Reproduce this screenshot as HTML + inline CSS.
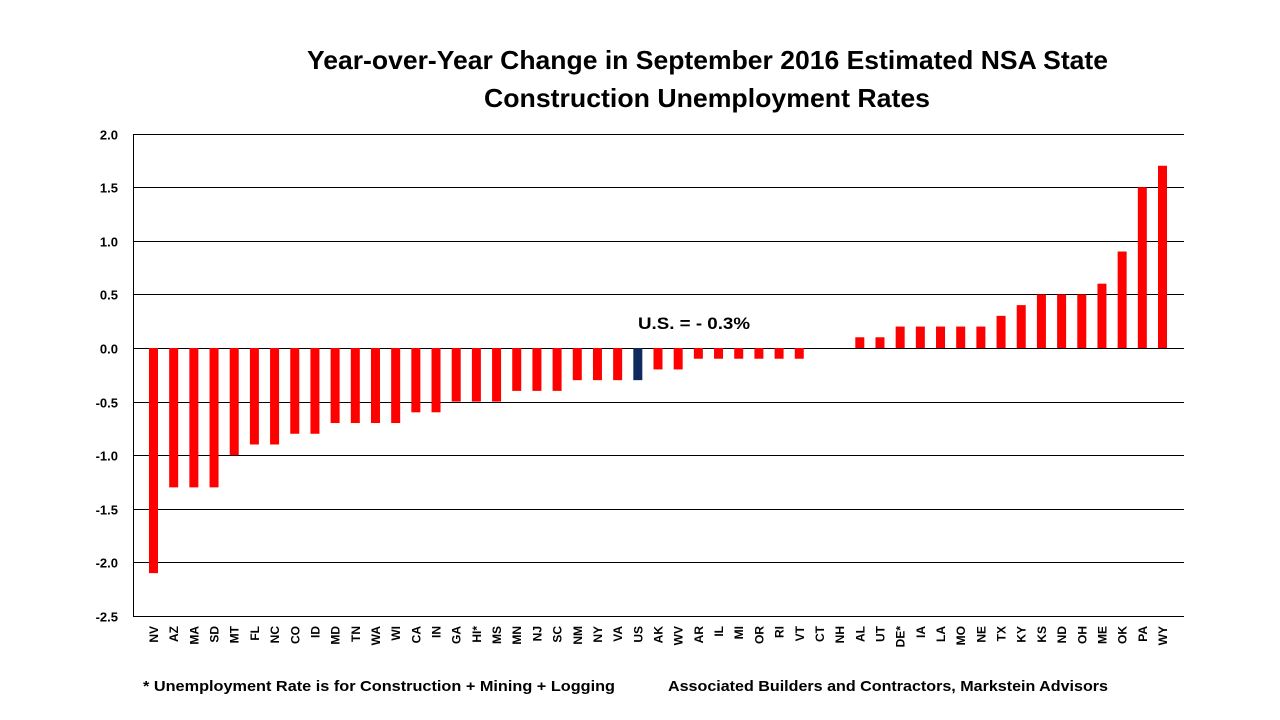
<!DOCTYPE html>
<html><head><meta charset="utf-8"><style>
html,body{margin:0;padding:0;background:#fff;}
svg{display:block;font-family:"Liberation Sans",Arial,sans-serif;}
</style></head><body>
<svg width="1280" height="720" viewBox="0 0 1280 720" xmlns="http://www.w3.org/2000/svg">
<text x="307" y="69" font-size="26" font-weight="bold" fill="#000" textLength="801" lengthAdjust="spacingAndGlyphs">Year-over-Year Change in September 2016 Estimated NSA State</text>
<text x="484" y="107" font-size="26" font-weight="bold" fill="#000" textLength="446" lengthAdjust="spacingAndGlyphs">Construction Unemployment Rates</text>
<g id="grid" stroke="#000" stroke-width="1"></g>
<g id="bars"></g>
<g id="labels" font-size="12" font-weight="bold"></g>
<text x="638" y="329" font-size="17" font-weight="bold" textLength="112" lengthAdjust="spacingAndGlyphs">U.S. = - 0.3%</text>
<text x="143" y="691" font-size="15" font-weight="bold" textLength="472" lengthAdjust="spacingAndGlyphs">* Unemployment Rate is for Construction + Mining + Logging</text>
<text x="668" y="691" font-size="15" font-weight="bold" textLength="440" lengthAdjust="spacingAndGlyphs">Associated Builders and Contractors, Markstein Advisors</text>
<script>
const ns="http://www.w3.org/2000/svg";
function el(t,a,p,txt){const e=document.createElementNS(ns,t);for(const k in a)e.setAttribute(k,a[k]);if(txt!==undefined)e.textContent=txt;document.getElementById(p).appendChild(e);return e;}
const y0=348, ppu=107.2;
function Y(v){return y0-v*ppu;}
for(let i=0;i<=9;i++){const v=2-i*0.5;const y=Math.round(Y(v))+0.5;
el('line',{x1:133,x2:1184,y1:y,y2:y},'grid');
el('text',{x:118,y:y+5,'text-anchor':'end','font-size':13,'font-weight':'bold'},'labels',v.toFixed(1));}
el('line',{x1:133.5,x2:133.5,y1:134,y2:617},'grid');
const d=[["NV",-2.1],["AZ",-1.3],["MA",-1.3],["SD",-1.3],["MT",-1.0],["FL",-0.9],["NC",-0.9],["CO",-0.8],["ID",-0.8],["MD",-0.7],["TN",-0.7],["WA",-0.7],["WI",-0.7],["CA",-0.6],["IN",-0.6],["GA",-0.5],["HI*",-0.5],["MS",-0.5],["MN",-0.4],["NJ",-0.4],["SC",-0.4],["NM",-0.3],["NY",-0.3],["VA",-0.3],["US",-0.3],["AK",-0.2],["WV",-0.2],["AR",-0.1],["IL",-0.1],["MI",-0.1],["OR",-0.1],["RI",-0.1],["VT",-0.1],["CT",0],["NH",0],["AL",0.1],["UT",0.1],["DE*",0.2],["IA",0.2],["LA",0.2],["MO",0.2],["NE",0.2],["TX",0.3],["KY",0.4],["KS",0.5],["ND",0.5],["OH",0.5],["ME",0.6],["OK",0.9],["PA",1.5],["WY",1.7]];
d.forEach((p,i)=>{const cx=153.5+i*20.18;const v=p[1];
if(v!==0){const ya=Y(Math.max(v,0)),yb=Y(Math.min(v,0));
el('rect',{x:cx-4.5,y:ya,width:9,height:yb-ya,fill:p[0]=="US"?"#0f2a5c":"#ff0000"},'bars');}
el('text',{x:0,y:0,'text-anchor':'end',transform:`translate(${cx+4.5},626) rotate(-90)`},'labels',p[0]);});
</script>
</svg>
</body></html>
